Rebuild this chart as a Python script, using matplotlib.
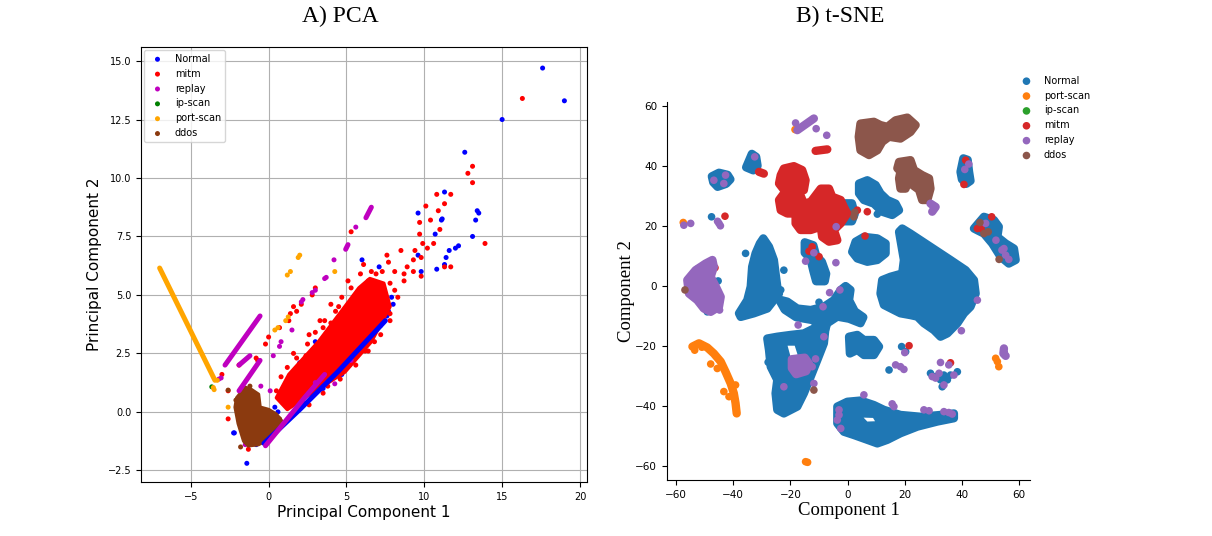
import numpy as np
import matplotlib
matplotlib.use('Agg')
import matplotlib.pyplot as plt

# ---------------- PCA panel data ----------------
pca_classes = ['Normal', 'mitm', 'replay', 'ip-scan', 'port-scan', 'ddos']
pca_colors = ['b', 'r', 'm', 'g', 'orange', '#8B3A0F']

pca_normal_pts = [(17.6, 14.7), (19.0, 13.3), (15.0, 12.5), (12.6, 11.1), (13.5, 8.5), (13.4, 8.6),
                  (13.3, 8.2), (13.1, 7.5), (11.3, 9.4), (11.1, 8.2), (11.15, 8.25), (10.7, 7.6),
                  (9.6, 8.5), (12.2, 7.1), (12.0, 7.0), (11.6, 6.9), (11.4, 6.6), (11.3, 6.3),
                  (10.8, 6.1), (9.8, 6.0), (9.6, 6.7), (6.0, 6.5), (7.1, 6.2), (6.3, 5.2), (7.7, 4.3),
                  (3.0, 3.0), (2.0, 2.1), (-2.2, -0.9), (-1.4, -2.2), (-0.8, -1.4), (-2.25, -0.9),
                  (0.9, 0.4), (1.4, 0.8), (5.6, 2.4), (6.2, 2.9), (6.6, 3.3), (7.2, 3.7), (7.6, 4.1),
                  (4.7, 1.6), (3.5, 1.0), (0.4, 0.2), (8.0, 4.6), (7.9, 4.9), (0.6, 0.0), (0.9, 0.6),
                  (1.2, 0.9), (0.5, -0.5), (1.3, 0.3), (0.2, -0.2), (2.2, 0.4), (5.2, 2.0)]
pca_normal_bands = [[(-0.3, -1.35), (2.0, 0.1), (4.5, 1.75), (7.5, 3.9)]]
pca_normal_blobs = []

pca_mitm_pts = [(16.3, 13.4), (13.9, 7.2), (13.1, 10.5), (12.8, 10.2), (13.1, 9.8), (11.7, 9.3),
                (10.8, 9.3), (11.3, 8.9), (10.9, 8.6), (10.1, 8.8), (10.4, 8.2), (9.7, 8.1),
                (11.0, 7.8), (9.7, 7.6), (9.9, 7.2), (10.6, 7.2), (10.2, 7.0), (9.4, 6.9), (8.5, 6.9),
                (7.6, 6.7), (9.8, 6.6), (9.3, 6.5), (9.8, 5.8), (11.7, 6.2), (11.3, 6.2), (8.9, 6.2),
                (9.3, 6.0), (8.7, 5.9), (8.1, 6.0), (7.7, 6.4), (7.3, 6.0), (6.9, 5.9), (8.7, 5.6),
                (8.1, 5.2), (7.8, 5.5), (6.4, 5.6), (5.3, 7.7), (4.5, 4.5), (4.0, 3.8), (7.8, 3.9),
                (6.8, 3.0), (6.2, 2.6), (3.8, 1.1), (3.1, 1.2), (2.4, 2.4), (1.3, 1.2), (0.5, 0.9),
                (1.0, 0.5), (-0.7, 2.2), (-0.2, 2.9), (0.0, 3.2), (1.4, 4.2), (1.6, 4.5), (1.8, 4.3),
                (3.0, 5.3), (2.8, 5.0), (-0.8, 2.3), (-1.9, 2.0), (-2.6, 0.9), (-2.6, -0.3),
                (-3.0, 1.6), (-1.3, -1.6), (1.3, 3.9), (2.1, 4.6), (0.7, 3.6), (3.5, 3.6), (2.6, 3.3),
                (1.2, 1.9), (1.8, 2.3), (2.5, 2.9), (3.0, 3.4), (3.6, 3.9), (4.3, 4.3), (4.7, 4.9),
                (5.3, 5.3), (5.9, 5.9), (6.6, 6.0), (2.2, 1.7), (1.6, 2.5), (3.3, 3.9), (4.0, 4.6),
                (7.8, 4.2), (7.2, 3.3), (6.4, 2.6), (5.6, 2.0), (4.6, 1.4), (3.5, 0.8), (2.6, 0.3),
                (5.1, 5.6), (6.1, 6.3), (8.3, 4.9), (0.8, 1.5)]
pca_mitm_bands = []
pca_mitm_blobs = [[(0.5, 0.6), (1.3, 1.6), (3.2, 3.0), (4.9, 4.5), (5.8, 5.3), (6.5, 5.7),
                   (7.4, 5.5), (7.8, 4.5), (6.6, 3.0), (4.9, 1.7), (2.3, 0.6), (1.2, 0.1)]]

pca_replay_pts = [(-3.2, 1.4), (-3.05, 1.45), (0.3, 2.4), (0.8, 3.0), (0.7, 2.8), (1.5, 3.5),
                  (2.1, 4.7), (2.2, 4.8), (2.8, 5.1), (3.0, 5.2), (3.6, 5.7), (3.7, 5.75),
                  (4.2, 6.5), (5.6, 7.9), (3.0, 1.25), (4.25, 1.2), (5.3, 2.2), (-1.5, -1.4),
                  (0.1, 0.9), (-0.5, 1.1)]
pca_replay_bands = [[(-2.8, 2.0), (-0.55, 4.1)], [(-1.9, 2.0), (-1.2, 2.4)],
                    [(-1.9, 0.9), (-0.55, 2.2)], [(-0.2, -1.45), (2.3, 0.6), (3.6, 1.6)],
                    [(6.25, 8.3), (6.6, 8.75)], [(4.95, 6.95), (5.1, 7.15)]]
pca_replay_blobs = []

pca_ipscan_pts = [(-3.65, 1.07)]
pca_ipscan_bands = []
pca_ipscan_blobs = []

pca_portscan_pts = [(1.9, 6.6), (2.0, 6.7), (1.4, 6.0), (1.2, 5.85), (4.25, 6.0), (1.26, 4.06),
                    (1.1, 3.9), (0.6, 3.6), (0.4, 3.5), (-3.55, 1.04), (-3.5, 0.95), (-3.3, 1.35),
                    (-2.6, 0.2)]
pca_portscan_bands = [[(-7.0, 6.15), (-3.45, 1.35)]]
pca_portscan_blobs = []

pca_ddos_pts = [(-2.6, 0.93), (-1.8, -1.5), (-1.2, 1.1), (-2.1, 0.5), (0.7, -0.3)]
pca_ddos_bands = []
pca_ddos_blobs = [[(-2.05, 0.6), (-1.5, 1.05), (-1.1, 0.95), (-0.65, 0.75), (-0.55, 0.2), (0.0, 0.1),
                   (0.5, -0.1), (0.85, -0.4), (0.4, -0.8), (-0.1, -1.2), (-0.65, -1.4), (-1.3, -1.45),
                   (-1.6, -1.25), (-1.95, -0.5), (-2.15, 0.2)]]

# ---------------- t-SNE panel data ----------------
tsne_classes = ['Normal', 'port-scan', 'ip-scan', 'mitm', 'replay', 'ddos']
tsne_colors = ['#1f77b4', '#ff7f0e', '#2ca02c', '#d62728', '#9467bd', '#8c564b']

tsne_normal_blobs = [
    [(19.1, 19.1), (22, 17.4), (29, 13), (36, 8.6), (41.3, 5.2), (44.2, 1.9), (44.8, -2.6), (43, -7),
     (40.7, -9.2), (38.4, -12.5), (34.9, -15.9), (32.5, -17), (30.2, -14.8), (26.7, -12.5),
     (24.4, -10.3), (22, -9.8), (18.5, -9.2), (16.2, -8.1), (12.7, -6.4), (11.5, -2.6), (12.1, 1.9),
     (15, 3), (19.1, 4.1), (19.7, 8.6), (18.5, 15.2), (18, 18)],
    [(2.8, 14.7), (5.7, 16.3), (10.4, 15.8), (13.3, 14.1), (13.3, 10.8), (10.4, 8.6), (6.9, 8),
     (3.4, 9.1), (1.6, 11.3)],
    [(4, 34.1), (6.9, 35.2), (9.8, 33.6), (11.5, 30.8), (13.9, 28.6), (16.8, 27.4), (18, 25.2),
     (15.6, 23.6), (12.1, 24.7), (9.2, 27.4), (5.7, 28.6), (4, 30.8)],
    [(-2.5, 27.5), (1.5, 27.5), (2.5, 24), (1.5, 21.5), (-1.5, 21.5)],
    [(-29.5, 15.8), (-27.5, 13), (-25.8, 8.6), (-25.2, 4.1), (-24.6, -0.3), (-24, -2.6),
     (-28.1, -7.6), (-32.8, -9.2), (-37.4, -10.4), (-38, -9.2), (-35.1, -4.8), (-33.9, -0.3),
     (-33.4, 6.3), (-32.2, 10.8), (-30.7, 14.1)],
    [(-24, -4.6), (-21.1, -5.3), (-17.6, -7.6), (-12.9, -8.1), (-8.3, -7), (-4.8, -4.8),
     (-2.4, -1.4), (-0.7, -0.1), (1, -1.4), (0.5, -4.8), (2.5, -8.5), (5.5, -10.5), (4.5, -12.5),
     (0.5, -11), (-3.6, -10.3), (-7.1, -12.5), (-8.3, -15.9), (-12, -11.5), (-18, -10.5),
     (-22, -8)],
    [(-28.1, -17.6), (-24.6, -17), (-19.9, -16.4), (-15.3, -15.9), (-10.6, -13.7), (-7.7, -13.7),
     (-8.3, -19.2), (-10.6, -24.8), (-12.9, -30.3), (-15.3, -35.9), (-17.6, -40.3), (-22.3, -42.6),
     (-24.6, -41.4), (-25.2, -35.9), (-24.6, -31.4), (-26.9, -27), (-27.5, -21.4)],
    [(0.5, -17), (3.4, -16.4), (5.7, -18.1), (9.2, -18.1), (11, -20.3), (9.2, -23.1), (5.7, -23.1),
     (3.4, -21.4), (0.8, -22.6)],
    [(-3.6, -40.3), (-0.1, -38.7), (4.5, -38.3), (9.2, -39.8), (12.7, -41.4), (18.5, -43.1),
     (25.5, -43.7), (32.5, -43.1), (37.2, -42.6), (37.2, -44.2), (31.4, -45.3), (24.4, -47),
     (18.5, -49.2), (13.9, -51.4), (10.4, -52.6), (6.9, -51.4), (2.2, -49.8), (-1.3, -48.7),
     (-3.6, -45.9)],
    [(-35.5, 39.5), (-33.5, 44), (-32, 43), (-31.5, 40), (-33, 38.5)],
    [(-47.5, 36.5), (-45, 37.7), (-42, 37), (-41, 35.5), (-42.5, 34), (-45.5, 33), (-47, 34.5)],
    [(-15, 14.5), (-12, 13.5), (-11, 10), (-9, 8), (-7.5, 4), (-8, 1.5), (-11, 1.5), (-12, 5),
     (-13, 9), (-15, 11)],
    [(40.5, 42.5), (42, 42), (42.5, 38), (43, 35), (41.5, 34), (40, 35.5), (39.5, 38)],
    [(44.2, 19.1), (47.7, 23), (51.2, 21.9), (52.9, 19.7), (52.4, 16.3), (55.3, 14.1), (58.2, 12.4),
     (58.8, 8.6), (56.4, 7.4), (53.5, 9.7), (50.6, 14.1), (47.7, 17.4), (45.4, 18.5)],
]
tsne_holes = [[(5.6, -44.0), (8.9, -44.1), (9.6, -45.2), (6.9, -45.3)],
              [(-21, -20), (-18.5, -20), (-17.5, -23), (-20, -23.5)]]
tsne_normal_pts = [(-35.7, 10.8), (-22.3, 5.2), (-23.4, -1.4), (-28.7, -7), (-47.6, 23),
                   (-49.1, -8.7), (-45.3, 1.6), (-52.2, 5.8), (10.4, 23.9), (18.9, -20.3),
                   (20.3, -22), (14.5, -28.1), (29, -29.2), (30.8, -30.3), (32.5, -31.4),
                   (33.7, -29.8), (36, -29.8), (38.4, -28.7), (33.1, -33.7), (34.9, -31.4),
                   (-6.5, -7.5), (-4, -9.5), (-10, -5.5), (-27.8, -25.5)]
tsne_normal_bands = []

tsne_portscan_bands = [[(-54.3, -20.3), (-52, -19.2), (-49.1, -20.6), (-46.8, -22.6), (-44.4, -25.3),
                        (-42.7, -28.7), (-40.9, -32.6), (-39.8, -35.9), (-39.2, -39.2), (-38.8, -42.6)]]
tsne_portscan_blobs = []
tsne_portscan_pts = [(-47.9, -26.1), (-45.6, -27.6), (-43.3, -35.3), (-41.5, -37), (-39.2, -33.1),
                     (-53.5, -21.5), (-51, -20.5), (-14.7, -58.7), (-14.0, -58.9),
                     (51.8, -24.2), (52.4, -25.3), (52.9, -27), (-18.4, 52.1), (-57.5, 21.1)]

tsne_ipscan_pts = []

tsne_mitm_blobs = [
    [(-23.4, 36.9), (-22.3, 39.1), (-18.8, 39.9), (-15.9, 38.6), (-14.7, 35.2), (-15.3, 31.9),
     (-18.2, 30.8), (-21.7, 31.3), (-24, 34.1)],
    [(-24, 28.6), (-22.3, 30.8), (-19.4, 29.7), (-16.5, 30.2), (-15.3, 27.4), (-12.9, 28),
     (-9.4, 32.4), (-6.5, 32.4), (-5.4, 29.7), (-2.4, 28.6), (-1.3, 26.3), (-0.1, 24.1),
     (-2.4, 20.8), (-4.8, 18.6), (-3.6, 15.2), (-6.5, 14.7), (-8.9, 16.3), (-9.4, 19.7),
     (-12.9, 18.6), (-16.5, 18.6), (-18.2, 20.8), (-18.2, 24.1), (-21.1, 24.1), (-23.4, 25.2)],
]
tsne_mitm_bands = [[(-11.2, 45), (-7.1, 45.5)], [(-31, 38), (-29.3, 37.4)]]
tsne_mitm_pts = [(3.4, 25.2), (6.9, 24.7), (6.1, 16.6), (-10, 9.7), (-12.4, 13), (-13.5, 11.5),
                 (-42.9, 23.2), (-46.4, 6), (41.3, 41.9), (40.7, 33.8), (50.4, 23), (45.4, 19.1),
                 (46.7, 19.1), (21.5, -20), (36, -25.7)]

tsne_replay_blobs = [
    [(-56.1, 1.9), (-53.2, 5.2), (-49.7, 7.4), (-47.3, 8.6), (-46.8, 6.3), (-47.9, 3), (-46.1, -0.3),
     (-44.4, -3.7), (-45, -7), (-47.9, -8.7), (-50.3, -7.6), (-52.6, -4.8), (-55.5, -2.6)],
    [(-19.5, -24.5), (-15, -24), (-13.5, -26), (-14.5, -28.5), (-18, -29.5), (-19.5, -27.5)],
]
tsne_replay_bands = [[(-17.6, 51.9), (-11.8, 55.8)], [(29, 27.4), (30.8, 26.3), (29.6, 24.7)],
                     [(54.7, -20.9), (54.5, -22.6), (55.3, -23.4)]]
tsne_replay_pts = [(-18.2, 54.3), (-11, 52.4), (-7.3, 50.2), (-32.5, 43), (-46.8, 35.2),
                   (-42.7, 36.9), (-43.3, 34.1), (-45, 20.8), (-45.5, 21.5), (-44.5, 20),
                   (-57.3, 20.2), (-54.9, 20.8), (-44.8, -8.1), (-11.8, 11), (-14.7, 8.2),
                   (-4.1, 7.7), (-6.3, -2.3), (-2.7, -1.4), (-8.6, -7), (-17.3, -13.1),
                   (-8.3, -17), (-22.3, -33.7), (-12.4, -27), (-11.2, -24.4), (-11.8, -32.6),
                   (-4, 19.7), (41, 38.8), (42.4, 40.6), (48.3, 20.8), (51.9, 15.2), (54, 11.9),
                   (55.3, 10.2), (56.4, 8.8), (54.7, 12.4), (45.4, -4.8), (39.8, -15),
                   (20, -22.3), (16.8, -26.4), (18.5, -27), (19.7, -27.9), (32.5, -25.6),
                   (30.8, -30.8), (32, -29.2), (33.7, -33.1), (35.4, -26.4), (37.2, -29.8),
                   (29.6, -30.3), (5.7, -36.4), (15.6, -39.4), (16.2, -40.3), (26.7, -41.4),
                   (28.5, -41.7), (33.7, -42), (35.4, -42.3), (36.6, -42.8), (-3, -43.1),
                   (-2.4, -47.6), (-3.6, -44.8), (-3, -41.4)]

tsne_ddos_blobs = [
    [(4.5, 54.1), (9.2, 54.7), (11.5, 53.6), (13.9, 53), (16.8, 55.2), (20.9, 56.1), (23.8, 53.6),
     (22, 51.3), (18.5, 49.1), (14.5, 49.7), (12.1, 48), (10.4, 45.2), (7.5, 43.6), (4.5, 45.2),
     (3.9, 49.7)],
    [(18, 41.3), (22, 41.9), (23.2, 38.6), (26.1, 36.9), (28.5, 35.8), (29, 32.4), (27.9, 28.6),
     (26.1, 28.6), (25, 32), (22.7, 33.6), (20.9, 35.2), (20.3, 32.4), (18.5, 32.4), (18, 35.8),
     (18.5, 38.1), (17.4, 39.2)],
]
tsne_ddos_pts = [(-56.9, -1.4), (-11.8, -34.8), (46.3, 21.1), (47.7, 17.4), (49.2, 18), (53, 8.8),
                 (2.5, 24.5), (2.2, 23)]


def draw_class(ax, color, label, pts, bands, blobs, s, band_lw, blob_lw):
    for poly in blobs:
        xs = [p[0] for p in poly]
        ys = [p[1] for p in poly]
        ax.fill(xs, ys, facecolor=color, edgecolor=color, lw=blob_lw, joinstyle='round')
    for line in bands:
        ax.plot([p[0] for p in line], [p[1] for p in line], color=color, lw=band_lw,
                solid_capstyle='round', solid_joinstyle='round')
    ax.scatter([p[0] for p in pts], [p[1] for p in pts], s=s, color=color, label=label,
               edgecolors='none')


fig = plt.figure(figsize=(12.12, 5.36), dpi=100)

# ---- A) PCA ----
ax1 = fig.add_axes([0.1163, 0.1007, 0.368, 0.8116])
pca_pts = [pca_normal_pts, pca_mitm_pts, pca_replay_pts, pca_ipscan_pts, pca_portscan_pts, pca_ddos_pts]
pca_bands = [pca_normal_bands, pca_mitm_bands, pca_replay_bands, pca_ipscan_bands, pca_portscan_bands, pca_ddos_bands]
pca_blobs = [pca_normal_blobs, pca_mitm_blobs, pca_replay_blobs, pca_ipscan_blobs, pca_portscan_blobs, pca_ddos_blobs]
for i in range(len(pca_classes)):
    draw_class(ax1, pca_colors[i], pca_classes[i], pca_pts[i], pca_bands[i], pca_blobs[i],
               s=13, band_lw=3.6, blob_lw=2.5)
ax1.set_xlim(-8.2, 20.45)
ax1.set_ylim(-3.0, 15.6)
ax1.set_xticks([-5, 0, 5, 10, 15, 20])
ax1.set_yticks([-2.5, 0.0, 2.5, 5.0, 7.5, 10.0, 12.5, 15.0])
ax1.grid(True, color='#b0b0b0', lw=0.8)
ax1.set_axisbelow(True)
ax1.tick_params(labelsize=7)
ax1.set_xlabel('Principal Component 1', fontsize=11, labelpad=2)
ax1.set_ylabel('Principal Component 2', fontsize=11)
ax1.legend(loc='upper left', fontsize=7, borderaxespad=0.3)

# ---- B) t-SNE ----
ax2 = fig.add_axes([0.5503, 0.1045, 0.2995, 0.7052])
tsne_pts = [tsne_normal_pts, tsne_portscan_pts, tsne_ipscan_pts, tsne_mitm_pts, tsne_replay_pts, tsne_ddos_pts]
tsne_bands = [tsne_normal_bands, tsne_portscan_bands, [], tsne_mitm_bands, tsne_replay_bands, []]
tsne_blobs = [tsne_normal_blobs, tsne_portscan_blobs, [], tsne_mitm_blobs, tsne_replay_blobs, tsne_ddos_blobs]
for i in range(len(tsne_classes)):
    draw_class(ax2, tsne_colors[i], tsne_classes[i], tsne_pts[i], tsne_bands[i], tsne_blobs[i],
               s=30, band_lw=6, blob_lw=6)
    if i == 0:
        for hole in tsne_holes:
            ax2.fill([p[0] for p in hole], [p[1] for p in hole], color='white', lw=0)
ax2.set_xlim(-63.2, 63.8)
ax2.set_ylim(-64.8, 61.3)
ax2.set_xticks([-60, -40, -20, 0, 20, 40, 60])
ax2.set_yticks([-60, -40, -20, 0, 20, 40, 60])
ax2.spines['top'].set_visible(False)
ax2.spines['right'].set_visible(False)
ax2.tick_params(labelsize=7.5)
ax2.set_xlabel('Component 1', fontsize=13.5, family='Liberation Serif', labelpad=2)
ax2.set_ylabel('Component 2', fontsize=13.5, family='Liberation Serif', labelpad=0)
ax2.legend(loc='upper left', bbox_to_anchor=(1008 / 1212, 1 - 67 / 536),
           bbox_transform=fig.transFigure, frameon=False, fontsize=7)

fig.text(0.2805, 0.959, 'A) PCA', ha='center', va='baseline', fontsize=17, family='Liberation Serif')
fig.text(0.693, 0.959, 'B) t-SNE', ha='center', va='baseline', fontsize=17, family='Liberation Serif')

fig.savefig('out.png', dpi=100)
